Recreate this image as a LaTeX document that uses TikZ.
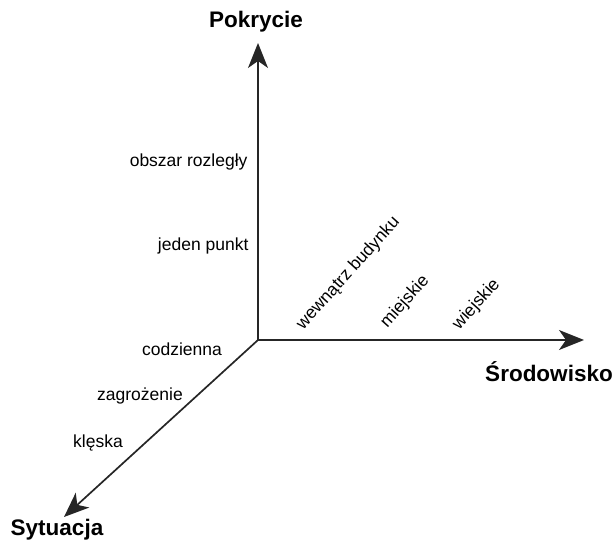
\documentclass[tikz,border=0pt]{standalone}
\usepackage{fontspec}
\setmainfont{Liberation Sans}
\usetikzlibrary{arrows.meta}
\begin{document}
\begin{tikzpicture}[x=1pt,y=-1pt,
  axis/.style={line width=1.7pt,draw=black!85,-{Stealth[length=25pt,width=20pt,inset=7pt]}},
  axislabel/.style={font=\fontsize{22.5}{26}\selectfont\bfseries},
  tick/.style={font=\fontsize{17.5}{21}\selectfont},
  slanted/.style={tick,rotate=48,anchor=south west,inner sep=0pt}]
\useasboundingbox (0,0) rectangle (614,545);
% origin and the three axis ends
\coordinate (o) at (258,340);
\coordinate (up) at (258,43);
\coordinate (right) at (584,340);
\coordinate (down) at (64,517);
\draw[axis] (o) -- (up);
\draw[axis] (o) -- (right);
\draw[axis] (o) -- (down);
% axis names
\node[axislabel] (pok) at (256,22) {Pokrycie};
\node[axislabel] (sro) at (549,372) {Środowisko};
\node[axislabel] (syt) at (57,530) {Sytuacja};
% values along the axes
\node[tick,anchor=east] (obs) at (251,162) {obszar rozległy};
\node[tick,anchor=east] (jed) at (252,246) {jeden punkt};
\node[tick] (cod) at (182,349) {codzienna};
\node[tick] (zag) at (140,396) {zagrożenie};
\node[tick] (kle) at (98,443) {klęska};
\node[slanted] (wew) at (306,333) {wewnątrz budynku};
\node[slanted] (mie) at (390,331) {miejskie};
\node[slanted] (wie) at (462,333) {wiejskie};
\end{tikzpicture}
\end{document}
